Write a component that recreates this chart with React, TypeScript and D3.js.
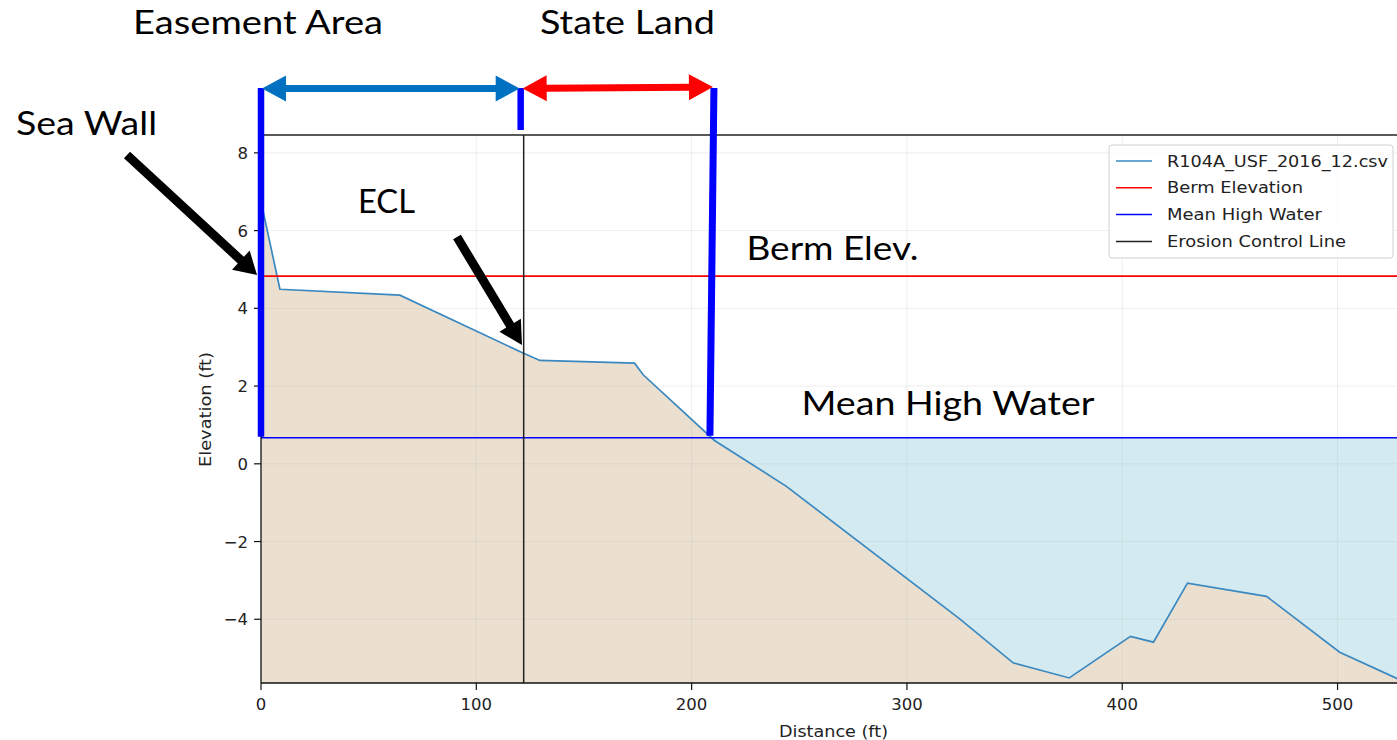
import React from "react";
import * as d3 from "d3";

// ---- data ----
const distance = [0, 8.8, 64.5, 121.7, 129.5, 173.5, 177.5, 210.6, 244, 324.5, 349.3, 375.4, 403.8, 414.5, 430.3, 467, 501, 529];
const elevation = [6.75, 4.49, 4.34, 2.85, 2.66, 2.59, 2.29, 0.6, -0.58, -3.99, -5.12, -5.51, -4.44, -4.59, -3.07, -3.41, -4.85, -5.56];
const bermElevation = 4.83;
const meanHighWater = 0.67;
const erosionControlLine = 122;
const mhwShoreline = 208.5;
const xTicks = [0, 100, 200, 300, 400, 500];
const yTicks = [-4, -2, 0, 2, 4, 6, 8];
const legendLabels = ["R104A_USF_2016_12.csv", "Berm Elevation", "Mean High Water", "Erosion Control Line"];
const legendColors = ["#3a88c0", "#ff0000", "#0000ff", "#222222"];
const legendWidths = [221, 136, 155, 179];

const W = 1397, H = 740;
const x = d3.scaleLinear().domain([0, 529]).range([261, 1400]);
const y = d3.scaleLinear().domain([-5.64, 8.46]).range([683, 135]);

type P = [number, number];
function arrowPoly(a: P, b: P, w: number, hl: number, hw: number, both: boolean): string {
  const dx = b[0] - a[0], dy = b[1] - a[1];
  const L = Math.hypot(dx, dy);
  const ux = dx / L, uy = dy / L, nx = -uy, ny = ux;
  const pt = (t: number, s: number) => [a[0] + ux * t + nx * s, a[1] + uy * t + ny * s].join(",");
  const pts: string[] = [];
  if (both) {
    pts.push(pt(0, 0), pt(hl, -hw / 2), pt(hl, -w / 2));
  } else {
    pts.push(pt(0, -w / 2));
  }
  pts.push(pt(L - hl, -w / 2), pt(L - hl, -hw / 2), pt(L, 0), pt(L - hl, hw / 2), pt(L - hl, w / 2));
  if (both) {
    pts.push(pt(hl, w / 2), pt(hl, hw / 2));
  } else {
    pts.push(pt(0, w / 2));
  }
  return pts.join(" ");
}

export default function App() {
  const pts: P[] = distance.map((d, i) => [d, elevation[i]]);
  const yMin = y.domain()[0];
  const sand = d3.area<P>().x(d => x(d[0])).y0(y(yMin)).y1(d => y(d[1]))(pts) || "";
  const line = d3.line<P>().x(d => x(d[0])).y(d => y(d[1]))(pts) || "";
  const left = x(0), top = y.range()[1], bottom = y.range()[0];
  const tickFont = "DejaVu Sans, sans-serif";
  const annFont = "Lato, 'Open Sans', sans-serif";
  const barTop = y(9.67);

  return (
    <svg width={W} height={H} style={{ position: "absolute", left: 0, top: 0, background: "#fff" }}>
      <defs>
        <clipPath id="plot"><rect x={left} y={top} width={W - left} height={bottom - top} /></clipPath>
      </defs>
      <g clipPath="url(#plot)">
        {/* water */}
        <rect x={left} y={y(meanHighWater)} width={W - left} height={bottom - y(meanHighWater)} fill="#d4eaf1" />
        {/* sand */}
        <path d={sand} fill="#ebe0d0" />
        {/* grid */}
        {xTicks.map(t => <line key={"gx" + t} x1={x(t)} x2={x(t)} y1={top} y2={bottom} stroke="#b0b0b0" strokeOpacity={0.2} strokeWidth={1} />)}
        {yTicks.map(t => <line key={"gy" + t} x1={left} x2={W} y1={y(t)} y2={y(t)} stroke="#b0b0b0" strokeOpacity={0.2} strokeWidth={1} />)}
        {/* lines */}
        <path d={line} fill="none" stroke="#3a88c0" strokeWidth={1.7} />
        <line x1={left} x2={W} y1={y(bermElevation)} y2={y(bermElevation)} stroke="#ff0000" strokeWidth={1.6} />
        <line x1={left} x2={W} y1={y(meanHighWater)} y2={y(meanHighWater)} stroke="#0000ff" strokeWidth={1.6} />
        <line x1={x(erosionControlLine)} x2={x(erosionControlLine)} y1={top} y2={bottom} stroke="#222" strokeWidth={1.5} />
      </g>
      {/* spines */}
      <line x1={left} x2={W} y1={top} y2={top} stroke="#222" strokeWidth={1.3} />
      <line x1={left} x2={W} y1={bottom} y2={bottom} stroke="#111" strokeWidth={1.3} />
      <line x1={left} x2={left} y1={top} y2={bottom} stroke="#111" strokeWidth={1.3} />
      {/* ticks */}
      {xTicks.map(t => (
        <g key={"tx" + t}>
          <line x1={x(t)} x2={x(t)} y1={bottom} y2={bottom + 7} stroke="#111" strokeWidth={1.2} />
          <text x={x(t)} y={710} textAnchor="middle" fontFamily={tickFont} fontSize={16.5} fill="#222">{String(t)}</text>
        </g>
      ))}
      {yTicks.map(t => (
        <g key={"ty" + t}>
          <line x1={left - 7} x2={left} y1={y(t)} y2={y(t)} stroke="#111" strokeWidth={1.2} />
          <text x={248} y={y(t) + 6} textAnchor="end" fontFamily={tickFont} fontSize={16.5} fill="#222">{t < 0 ? "\u2212" + Math.abs(t) : String(t)}</text>
        </g>
      ))}
      <text x={833.5} y={737} textAnchor="middle" fontFamily={tickFont} fontSize={16.5} fill="#222" textLength={109} lengthAdjust="spacingAndGlyphs">Distance (ft)</text>
      <text transform={`translate(211,409.5) rotate(-90)`} textAnchor="middle" fontFamily={tickFont} fontSize={16.5} fill="#222" textLength={115} lengthAdjust="spacingAndGlyphs">Elevation (ft)</text>

      {/* legend */}
      <rect x={1109} y={145} width={284} height={113} rx={3} fill="#fff" fillOpacity={0.8} stroke="#d0d0d0" strokeWidth={1} />
      {legendLabels.map((l, i) => {
        const ly = 161 + i * 26.8;
        return (
          <g key={l}>
            <line x1={1116} x2={1152} y1={ly} y2={ly} stroke={legendColors[i]} strokeWidth={1.5} />
            <text x={1167} y={ly + 5.5} fontFamily={tickFont} fontSize={16.5} fill="#222" textLength={legendWidths[i]} lengthAdjust="spacingAndGlyphs">{l}</text>
          </g>
        );
      })}

      {/* annotations */}
      <line x1={x(0)} x2={x(0)} y1={barTop} y2={y(meanHighWater) - 1} stroke="#0000ff" strokeWidth={6.5} />
      <line x1={x(erosionControlLine) - 3} x2={x(erosionControlLine) - 3} y1={barTop} y2={130} stroke="#0000ff" strokeWidth={6.5} />
      <line x1={x(mhwShoreline) + 4} x2={x(mhwShoreline)} y1={barTop} y2={y(meanHighWater) - 2} stroke="#0000ff" strokeWidth={7} />
      <polygon points={arrowPoly([x(0) + 1, barTop + 0.5], [x(erosionControlLine) - 4, barTop + 0.5], 7, 24, 26, true)} fill="#0070c0" />
      <polygon points={arrowPoly([x(erosionControlLine) - 1, barTop + 0.5], [x(mhwShoreline) + 3, barTop - 1], 7, 24, 26, true)} fill="#ff0000" />
      <polygon points={arrowPoly([127, 155], [257, 275], 9, 22, 26, false)} fill="#000" />
      <polygon points={arrowPoly([457, 237], [522, 345], 9, 23, 25, false)} fill="#000" />

      <text x={133} y={34} fontFamily={annFont} fontSize={33} fill="#000" textLength={250} lengthAdjust="spacingAndGlyphs">Easement Area</text>
      <text x={540} y={34} fontFamily={annFont} fontSize={33} fill="#000" textLength={175} lengthAdjust="spacingAndGlyphs">State Land</text>
      <text x={16} y={135} fontFamily={annFont} fontSize={33} fill="#000" textLength={141} lengthAdjust="spacingAndGlyphs">Sea Wall</text>
      <text x={358} y={212.5} fontFamily={annFont} fontSize={33} fill="#000" textLength={57} lengthAdjust="spacingAndGlyphs">ECL</text>
      <text x={746.5} y={260} fontFamily={annFont} fontSize={33} fill="#000" textLength={172} lengthAdjust="spacingAndGlyphs">Berm Elev.</text>
      <text x={801.5} y={415} fontFamily={annFont} fontSize={33} fill="#000" textLength={293} lengthAdjust="spacingAndGlyphs">Mean High Water</text>
    </svg>
  );
}
